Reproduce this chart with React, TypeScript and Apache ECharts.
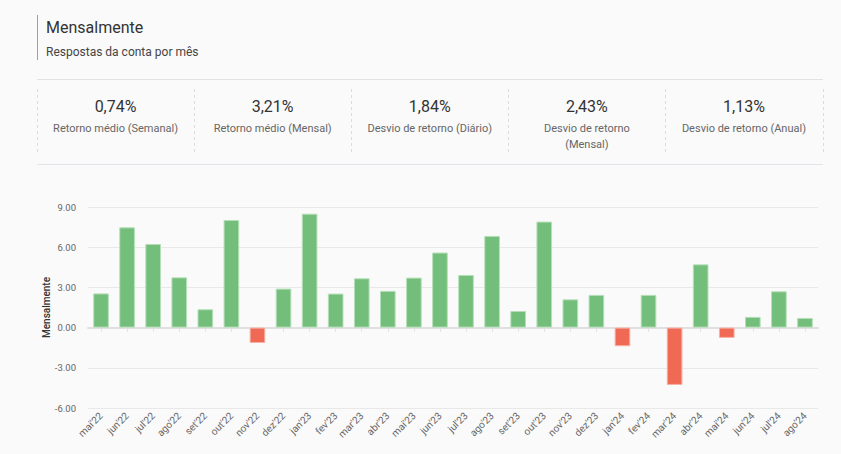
import React, { useEffect, useRef } from "react";
import * as echarts from "echarts";

const months = [
  "mai'22", "jun'22", "jul'22", "ago'22", "set'22", "out'22", "nov'22", "dez'22",
  "jan'23", "fev'23", "mar'23", "abr'23", "mai'23", "jun'23", "jul'23", "ago'23",
  "set'23", "out'23", "nov'23", "dez'23", "jan'24", "fev'24", "mar'24", "abr'24",
  "mai'24", "jun'24", "jul'24", "ago'24",
];
const returns = [
  2.55, 7.48, 6.24, 3.75, 1.37, 8.03, -1.15, 2.91,
  8.5, 2.54, 3.68, 2.74, 3.73, 5.6, 3.93, 6.84,
  1.24, 7.91, 2.11, 2.44, -1.39, 2.44, -4.28, 4.72,
  -0.77, 0.8, 2.71, 0.72,
];
const statValues = ["0,74%", "3,21%", "1,84%", "2,43%", "1,13%"];
const statLabels = [
  "Retorno médio (Semanal)",
  "Retorno médio (Mensal)",
  "Desvio de retorno (Diário)",
  "Desvio de retorno\n(Mensal)",
  "Desvio de retorno (Anual)",
];
const yTicks = { min: -6, max: 9, interval: 3 };

const FONT = "Roboto, 'Noto Sans', sans-serif";

export default function App() {
  const ref = useRef<HTMLDivElement>(null);
  useEffect(() => {
    if (!ref.current) return;
    const chart = echarts.init(ref.current, null, { renderer: "svg" });
    const boxW = 157.1;
    const boxX0 = 37;
    const graphics: any[] = [
      { type: "rect", shape: { x: 0, y: 0, width: 841, height: 454 }, style: { fill: "#fafafa" }, z: -10 },
      { type: "line", shape: { x1: 37.5, y1: 15, x2: 37.5, y2: 60 }, style: { stroke: "#72bd78", lineWidth: 1 } },
      { type: "text", x: 46, y: 27, style: { text: "Mensalmente", font: `16px ${FONT}`, fill: "#333", textVerticalAlign: "middle" } },
      { type: "text", x: 46, y: 52, style: { text: "Respostas da conta por mês", font: `12px ${FONT}`, fill: "#444", textVerticalAlign: "middle" } },
      { type: "line", shape: { x1: 37, y1: 79.5, x2: 823, y2: 79.5 }, style: { stroke: "#e2e2e2", lineWidth: 1 } },
      { type: "line", shape: { x1: 37, y1: 164.5, x2: 823, y2: 164.5 }, style: { stroke: "#e2e4ea", lineWidth: 1 } },
    ];
    for (let i = 0; i <= statValues.length; i++) {
      const x = Math.round(boxX0 + i * boxW) + 0.5;
      graphics.push({
        type: "line",
        shape: { x1: x, y1: 89, x2: x, y2: 155 },
        style: { stroke: "#dcdcdc", lineWidth: 1, lineDash: [3, 3] },
      });
    }
    statValues.forEach((v, i) => {
      const cx = boxX0 + boxW * (i + 0.5);
      graphics.push({
        type: "text", x: cx, y: 106,
        style: { text: v, font: `16px ${FONT}`, fill: "#333", textAlign: "center", textVerticalAlign: "middle" },
      });
      graphics.push({
        type: "text", x: cx, y: 121,
        style: { text: statLabels[i], font: `11px ${FONT}`, fill: "#666", textAlign: "center", textVerticalAlign: "top", lineHeight: 15.5 },
      });
    });

    chart.setOption({
      animation: false,
      backgroundColor: "#fafafa",
      graphic: graphics,
      grid: { left: 88, right: 23, top: 207, bottom: 46, containLabel: false },
      xAxis: {
        type: "category",
        data: months,
        axisLine: { show: true, lineStyle: { color: "#e0e0e0", width: 2 } },
        axisTick: { show: true, alignWithLabel: true, lineStyle: { color: "#e0e0e0" }, length: 4 },
        axisLabel: { rotate: 45, fontSize: 10, color: "#666", fontFamily: FONT, interval: 0, margin: 6 },
      },
      yAxis: {
        type: "value",
        min: yTicks.min,
        max: yTicks.max,
        interval: yTicks.interval,
        name: "Mensalmente",
        nameLocation: "middle",
        nameGap: 37,
        nameMoveOverlap: false,
        nameTextStyle: { fontSize: 10, color: "#333", fontFamily: FONT, fontWeight: 500 },
        axisLine: { show: false },
        axisTick: { show: false },
        axisLabel: { fontSize: 9.5, color: "#666", fontFamily: FONT, formatter: (v: number) => v.toFixed(2), margin: 12 },
        splitLine: { lineStyle: { color: "#e8e8e8", width: 1 } },
      },
      series: [
        {
          type: "bar",
          barWidth: "60%",
          data: returns.map((v) => ({
            value: v,
            itemStyle: v >= 0
              ? { color: "#73be7a", borderColor: "#b5dfb9", borderWidth: 1 }
              : { color: "#f06955", borderColor: "#f7b0a6", borderWidth: 1 },
          })),
        },
      ],
    });
    return () => chart.dispose();
  }, []);
  return (
    <div style={{ position: "absolute", left: 0, top: 0, width: 841, height: 454 }}>
      <div ref={ref} style={{ width: 841, height: 454 }} />
    </div>
  );
}
